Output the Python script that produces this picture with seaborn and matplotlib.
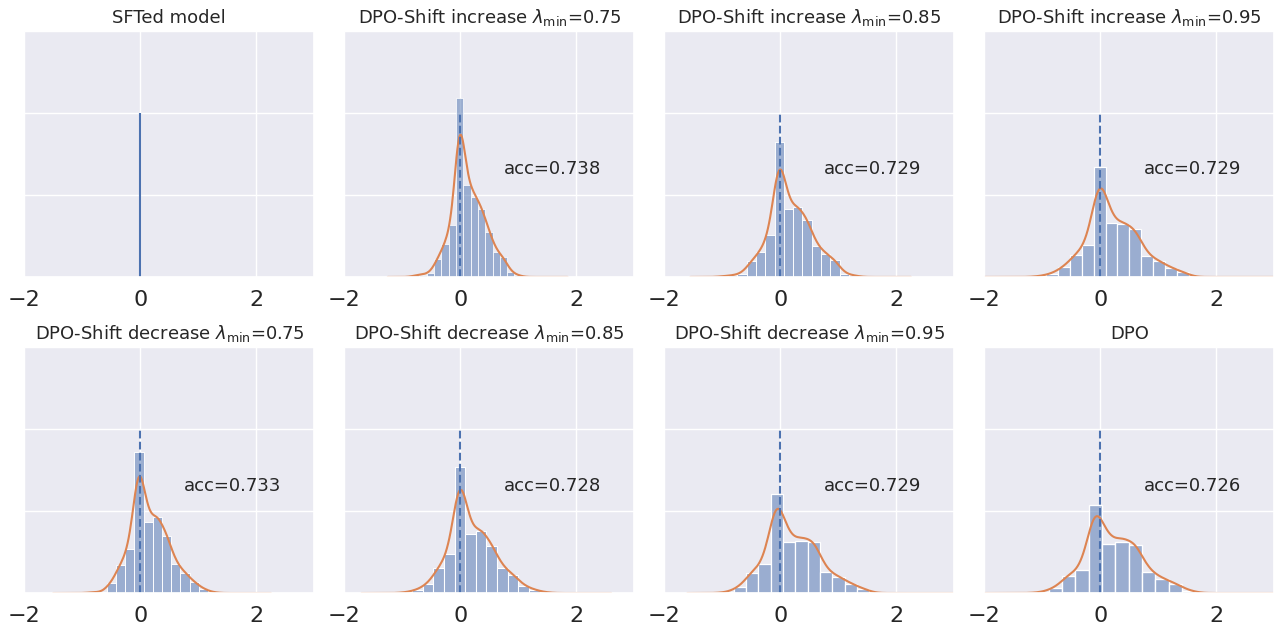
import numpy as np
import pandas as pd
import matplotlib
matplotlib.use("Agg")
import matplotlib.pyplot as plt
import seaborn as sns

# ---- data ----
titles = [
    "SFTed model",
    "DPO-Shift increase $\\lambda_{\\min}$=0.75",
    "DPO-Shift increase $\\lambda_{\\min}$=0.85",
    "DPO-Shift increase $\\lambda_{\\min}$=0.95",
    "DPO-Shift decrease $\\lambda_{\\min}$=0.75",
    "DPO-Shift decrease $\\lambda_{\\min}$=0.85",
    "DPO-Shift decrease $\\lambda_{\\min}$=0.95",
    "DPO",
]
acc_labels = [None, "acc=0.738", "acc=0.729", "acc=0.729",
              "acc=0.733", "acc=0.728", "acc=0.729", "acc=0.726"]

# histogram bins: first edge, bin width, density of each bin
bin_start = [None, -0.83, -1.058, -1.14, -0.898, -1.013, -1.019, -1.122]
bin_width = [None, 0.126, 0.16, 0.205, 0.159, 0.183, 0.213, 0.23]
densities = [
    None,
    [0.02, 0.03, 0.05, 0.22, 0.40, 0.63, 2.18, 1.12, 0.98, 0.83, 0.55, 0.31, 0.24, 0.06, 0.02],
    [0.01, 0.02, 0.04, 0.19, 0.31, 0.51, 1.65, 0.83, 0.85, 0.70, 0.38, 0.28, 0.21, 0.04, 0.02],
    [0.01, 0.04, 0.12, 0.27, 0.39, 1.34, 0.66, 0.64, 0.58, 0.26, 0.19, 0.11, 0.06],
    [0.01, 0.01, 0.12, 0.34, 0.54, 1.72, 0.87, 0.93, 0.70, 0.36, 0.24, 0.13, 0.05, 0.01],
    [0.01, 0.04, 0.11, 0.30, 0.47, 1.54, 0.72, 0.76, 0.57, 0.31, 0.22, 0.09, 0.04, 0.01],
    [0.01, 0.07, 0.25, 0.35, 1.21, 0.62, 0.63, 0.62, 0.26, 0.19, 0.11, 0.05],
    [0.01, 0.06, 0.21, 0.28, 1.07, 0.60, 0.62, 0.58, 0.26, 0.17, 0.11, 0.03],
]
# extent of the underlying samples (KDE support)
kde_range = [None, (-1.25, 1.85), (-1.55, 2.25), (-2.0, 3.0), (-1.5, 2.25),
             (-1.7, 2.6), (-1.6, 3.0), (-2.0, 3.0)]
vline_height = 2.0
xticks = [-2, 0, 2]

sns.set_theme(style="darkgrid")
fig, axes = plt.subplots(2, 4, figsize=(12.75, 6.29), dpi=100, sharex=True, sharey=True)
fig.subplots_adjust(left=0.019, right=0.9995, top=0.9507, bottom=0.0572,
                    wspace=0.103, hspace=0.285)

for i, ax in enumerate(axes.flat):
    if densities[i] is None:
        ax.vlines(0, 0, vline_height, color="C0", linewidth=1.5)
    else:
        d = np.array(densities[i], dtype=float)
        edges = bin_start[i] + bin_width[i] * np.arange(len(d) + 1)
        centers = (edges[:-1] + edges[1:]) / 2
        df = pd.DataFrame({"x": centers, "w": d})
        sns.histplot(data=df, x="x", weights="w", bins=[float(e) for e in edges],
                     stat="count", color="C0", alpha=0.5, edgecolor="white", ax=ax)
        sns.kdeplot(data=df, x="x", weights="w", bw_adjust=0.4, cut=10,
                    clip=kde_range[i], color="C1", linewidth=1.5, ax=ax)
        ax.vlines(0, 0, vline_height, color="C0", linestyles="dashed", linewidth=1.5)
        ax.text(0.75, 1.25, acc_labels[i], fontsize=13, color="#262626")
    ax.set_title(titles[i], fontsize=13)
    ax.set_xlim(-2, 3)
    ax.set_ylim(0, 3)
    ax.set_xticks(xticks)
    ax.set_yticks([0, 1, 2, 3])
    ax.set_yticklabels([])
    ax.set_ylabel("")
    ax.set_xlabel("")
    ax.tick_params(axis="x", labelsize=16, labelbottom=True)
    ax.tick_params(axis="y", length=0)

fig.savefig("out.png", dpi=100)
